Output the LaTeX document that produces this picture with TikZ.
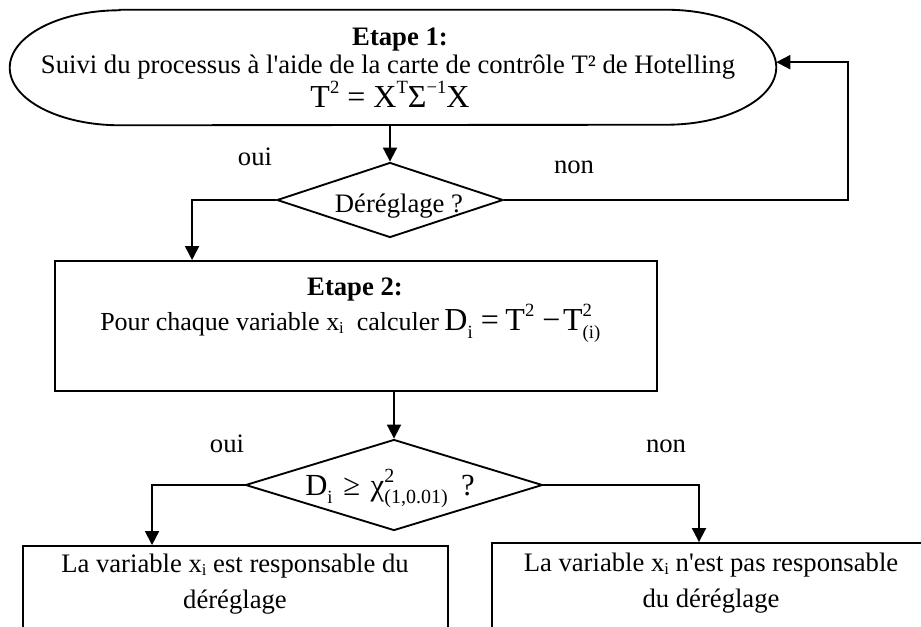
\documentclass[tikz,border=0pt]{standalone}
\usepackage{fontspec}
\setmainfont{Liberation Serif}[Ligatures=TeXOff]
\usetikzlibrary{arrows.meta,shapes.geometric}
\newcommand{\upt}[1]{\raisebox{0.95ex}{\fontsize{14}{14}\selectfont #1}}
\newcommand{\dnt}[1]{\raisebox{-0.6ex}{\fontsize{14}{14}\selectfont #1}}
\newcommand{\dnf}[1]{\raisebox{-0.6ex}{\fontsize{15}{15}\selectfont #1}}
\newcommand{\dns}[1]{\raisebox{-0.3ex}{\fontsize{12.5}{12.5}\selectfont #1}}
\newcommand{\updn}[2]{\makebox[0pt][l]{\upt{#1}}\dnt{#2}}
\newcommand{\updnf}[2]{\makebox[0pt][l]{\raisebox{0.9ex}{\fontsize{15}{15}\selectfont #1}}\dnf{#2}}
\tikzset{
  ln/.style={line width=1.4pt},
  arr/.style={ln, -{Triangle[length=10.5pt,width=10.5pt]}},
  boxn/.style={draw, ln, rectangle, inner sep=0pt},
  ghost/.style={rectangle, inner sep=0pt},
  dia/.style={draw, ln, diamond, inner sep=0pt},
  txt/.style={font=\fontsize{20}{22}\selectfont, anchor=base, inner sep=0pt},
  frm/.style={font=\fontsize{24}{28}\selectfont, anchor=base, inner sep=0pt},
}
\begin{document}
\begin{tikzpicture}[x=0.75pt,y=-0.75pt]
\useasboundingbox (0,0) rectangle (921,626);
\clip (0,0) rectangle (921,626);
% Step 1 terminal
\node[ghost, minimum width=574.5pt, minimum height=86.25pt] (s1) at (393,67.5) {};
\draw[ln] ([xshift=82.5pt]s1.north west) -- ([xshift=-82.5pt]s1.north east)
  arc[start angle=90,end angle=-90,x radius=82.5pt,y radius=43.125pt]
  -- ([xshift=82.5pt]s1.south west)
  arc[start angle=270,end angle=90,x radius=82.5pt,y radius=43.125pt] -- cycle;
\node[txt] (e1a) at (400,45) {\textbf{Etape 1:}};
\node[txt] (e1b) at (388,73) {Suivi du processus à l'aide de la carte de contrôle T² de Hotelling};
\node[frm] (e1c) at (390,107) {T\upt{2} = X\upt{T}Σ\upt{−1}X};
% decision 1
\node[dia, minimum width=169.5pt, minimum height=56.25pt] (d1) at (390,200) {};
\node[txt] (d1t) at (399,212) {Déréglage ?};
% step 2
\node[boxn, minimum width=451.5pt, minimum height=97.5pt] (b2) at (356,326) {};
\node[txt] (e2a) at (355,295) {\textbf{Etape 2:}};
\node[txt, anchor=base west, font=\fontsize{19.5}{22}\selectfont] (e2b) at (100,330) {Pour chaque variable x\dns{i}\ \ calculer\hspace{4pt}{\fontsize{24}{28}\selectfont D\dnt{i}\hspace{6pt}=\hspace{5pt}T\upt{2}\hspace{6pt}−\hspace{2pt}T\updn{2}{(i)}}};
% decision 2
\node[dia, minimum width=222.75pt, minimum height=68.25pt] (d2) at (394,485) {};
\node[frm, anchor=base west, font=\fontsize{23}{26}\selectfont] (d2t) at (305,495) {D\dnt{i}\hspace{8pt}≥\hspace{8pt}χ\updnf{2}{(1,0.01)}\hspace{10pt}?};
% outcomes
\node[boxn, minimum width=318.75pt, minimum height=100.5pt] (b3) at (235.5,613) {};
\node[txt] (b3a) at (235,572) {La variable x\dns{i} est responsable du};
\node[txt] (b3b) at (235,608) {déréglage};
\node[boxn, minimum width=328.5pt, minimum height=102.75pt] (b4) at (711,611.5) {};
\node[txt] (b4a) at (711,571) {La variable x\dns{i} n'est pas responsable};
\node[txt] (b4b) at (711,607) {du déréglage};
% labels
\node[txt] (oui1) at (255,165) {oui};
\node[txt] (non1) at (574,173) {non};
\node[txt] (oui2) at (227,452) {oui};
\node[txt] (non2) at (666,452) {non};
% connectors
\draw[arr] (s1.south -| d1.north) -- (d1.north);
\draw[arr] (d1.west) -| ([xshift=103.5pt]b2.north west);
\draw[arr] (d1.east) -- ++(344,0) |- ([yshift=4pt]s1.east);
\draw[arr] (b2.south -| d2.north) -- (d2.north);
\draw[arr] (d2.west) -| ([xshift=-62.6pt]b3.north);
\draw[arr] (d2.east) -| ([xshift=-9pt]b4.north);
\end{tikzpicture}
\end{document}
